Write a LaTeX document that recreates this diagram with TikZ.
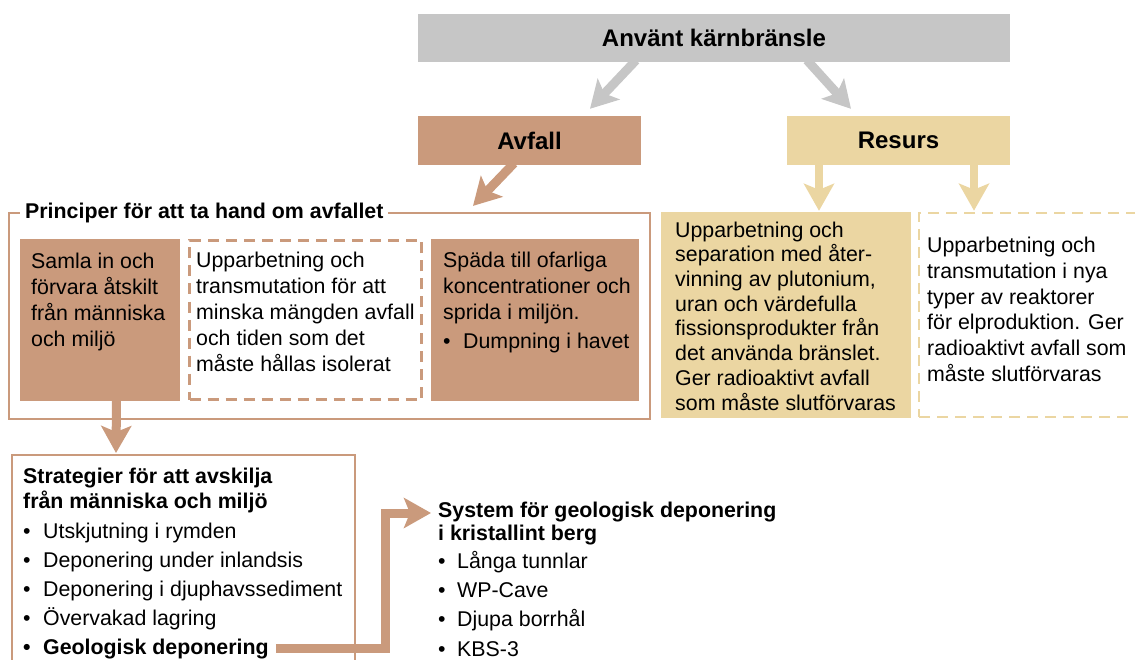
\documentclass[tikz,border=0pt]{standalone}
\usepackage{fontspec}
\setmainfont{Liberation Sans}
\usetikzlibrary{arrows.meta,calc}
\definecolor{fuelgray}{RGB}{198,198,198}
\definecolor{wastebrown}{RGB}{202,154,124}
\definecolor{resourcetan}{RGB}{235,214,162}
\newcommand\listdot[1][20pt]{\makebox[#1][l]{•}}
\tikzset{
  headbox/.style={inner sep=0pt, minimum height=49pt, font=\fontsize{24}{28}\selectfont\bfseries},
  fillbox/.style={inner sep=0pt},
  body/.style={font=\fontsize{21.35}{26}\selectfont, align=left, inner sep=0pt, anchor=north west},
  fatarrow/.style={line width=9pt, -{Stealth[length=27pt,width=30pt,inset=6pt]}},
  framebrown/.style={draw=wastebrown, line width=2.2pt},
  dashedbox/.style={line width=2.6pt, dash pattern=on 11pt off 7pt},
}
\begin{document}
\begin{tikzpicture}[x=1pt,y=-1pt]
\useasboundingbox (0,0) rectangle (1135,660);
\clip (0,0) rectangle (1135,660);

% top level
\node[headbox, fill=fuelgray, minimum width=592pt, minimum height=48pt] (fuel) at (714,38) {Använt kärnbränsle};
\node[headbox, fill=wastebrown, minimum width=223pt] (waste) at (529.5,140.5) {Avfall};
\node[headbox, fill=resourcetan, minimum width=223pt] (res) at (898.5,140.5) {Resurs};

% principles frame and its boxes
\node[framebrown, inner sep=0pt, minimum width=641pt, minimum height=206pt] (pframe) at (329.5,316) {};
\node[font=\fontsize{21.35}{26}\selectfont\bfseries, fill=white, inner xsep=5pt, inner ysep=3pt, anchor=base west]
  (ptitle) at (20,219) {Principer för att ta hand om avfallet};
\node[fillbox, fill=wastebrown, minimum width=160pt, minimum height=162pt] (p1) at (100,320) {};
\node[fillbox, draw=wastebrown, dashedbox, minimum width=232pt, minimum height=159pt] (p2) at (305.5,320) {};
\node[fillbox, fill=wastebrown, minimum width=208pt, minimum height=162pt] (p3) at (535,320) {};

\node[body] (t1) at (31,249.8) {\strut Samla in och\\ förvara åtskilt\\ från människa\\ och miljö};
\node[body] (t2) at (196,248.8) {\strut Upparbetning och\\ transmutation för att\\ minska mängden avfall\\ och tiden som det\\ måste hållas isolerat};
\node[body] (t3) at (443,248.8) {\strut Späda till ofarliga\\ koncentrationer och\\ sprida i miljön.\\[3pt] \listdot Dumpning i havet};

% resource boxes
\node[fillbox, fill=resourcetan, minimum width=250pt, minimum height=206pt] (r1) at (786,315) {};
\node[fillbox, draw=resourcetan, dashedbox, minimum width=241pt, minimum height=204pt] (r2) at (1039.5,315) {};
\node[body, font=\fontsize{21.35}{24.7}\selectfont] (t4) at (675,219.7) {\strut Upparbetning och\\ separation med åter-\\ vinning av plutonium,\\ uran och värdefulla\\ fissionsprodukter från\\ det använda bränslet.\\ Ger radioaktivt avfall\\ som måste slutförvaras};
\node[body, font=\fontsize{21.35}{25.9}\selectfont] (t5) at (927,233.9) {\strut Upparbetning och\\ transmutation i nya\\ typer av reaktorer\\ för elproduktion. Ger\\ radioaktivt avfall som\\ måste slutförvaras};

% strategies
\coordinate (stratop) at (116,453);
\draw[framebrown] (12,690) -- (12,455) -- (355,455) -- (355,690);
\node[body, font=\fontsize{21.35}{23}\selectfont\bfseries] (stitle) at (23,466.9) {\strut Strategier för att avskilja\\ från människa och miljö};
\node[body, font=\fontsize{21.35}{29}\selectfont] (slist) at (23,517.7) {\strut\listdot Utskjutning i rymden\\ \listdot Deponering under inlandsis\\ \listdot Deponering i djuphavssediment\\ \listdot Övervakad lagring};
\node[body, font=\fontsize{21.35}{29}\selectfont\bfseries] (geo) at (23,633.7) {\strut\listdot Geologisk deponering};

% geological disposal systems
\node[body, font=\fontsize{21.35}{22}\selectfont\bfseries] (systitle) at (438,501.6) {\strut System för geologisk deponering\\ i kristallint berg};
\node[body, font=\fontsize{21.35}{29.3}\selectfont] (syslist) at (438,547.5) {\strut\listdot[19pt]Långa tunnlar\\ \listdot[19pt]WP-Cave\\ \listdot[19pt]Djupa borrhål\\ \listdot[19pt]KBS-3};
\coordinate (systip) at (431,513);

% connectors
\draw[fatarrow, fuelgray] ([xshift=-78pt,yshift=2pt]fuel.south) -- ([xshift=60.5pt,yshift=7pt]waste.north);
\draw[fatarrow, fuelgray] ([xshift=93pt,yshift=2pt]fuel.south) -- ([xshift=-47.5pt,yshift=7pt]res.north);
\draw[fatarrow, wastebrown] ([xshift=-15.5pt,yshift=2pt]waste.south) -- ([xshift=143.5pt,yshift=6pt]pframe.north);
\draw[fatarrow, resourcetan, line width=8pt] ([xshift=-79.5pt,yshift=1pt]res.south) -- ([xshift=33pt,yshift=1pt]r1.north);
\draw[fatarrow, resourcetan, line width=8pt] ([xshift=75.5pt,yshift=1pt]res.south) -- ([xshift=-65.5pt,yshift=1pt]r2.north);
\draw[fatarrow, wastebrown] ([xshift=16.5pt,yshift=1pt]p1.south) -- (stratop);
\draw[fatarrow, wastebrown, line join=miter] ([xshift=7pt]geo.east) -| ([xshift=-46pt]systip) -- (systip);
\end{tikzpicture}
\end{document}
